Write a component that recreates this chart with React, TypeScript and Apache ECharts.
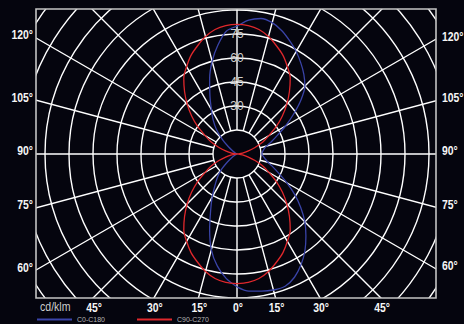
import React, { useEffect, useRef } from 'react';
import * as echarts from 'echarts';

// Gamma angles (degrees from nadir for lower half, from zenith for upper half)
const GAMMA = [0, 5, 10, 15, 20, 25, 30, 35, 40, 45, 50, 55, 60, 65, 70, 75, 80, 85, 90];

// C0-C180 plane (cd/klm)
const C0_DOWN = [83, 86, 87, 88, 88, 85, 80, 74, 67, 60, 52, 44, 36, 29, 24, 20, 18, 16.5, 15.5];
const C0_UP = [80, 84, 86, 85, 82, 78, 74, 69.5, 65, 60, 52, 43, 35, 28, 23, 19, 17, 16, 15.5];
const C180_DOWN = [83, 78, 71, 62, 50, 39, 31, 24, 19, 14, 8, 4, 1, 0, 0, 0, 0, 0, 0];
const C180_UP = [80, 77, 69, 60, 50, 40, 32, 26, 20, 13, 7, 3, 1, 0, 0, 0, 0, 0, 0];

// C90-C270 plane (cd/klm), symmetric
const C90_DOWN = [81, 80.5, 79, 76, 72, 68, 63, 58, 51, 44, 37, 30, 23, 18, 12, 7, 3.5, 1, 0];
const C90_UP = [81, 80.5, 79, 76, 72, 68, 63, 58, 51, 44, 37, 30, 23, 18, 12, 7, 3.5, 1, 0];

// Tick labels
const SIDE_TICKS = [120, 105, 90, 75, 60];
const BOTTOM_TICKS = [-45, -30, -15, 0, 15, 30, 45];
const RING_LABELS = [30, 45, 60, 75];
const SERIES_NAMES = ['C0-C180', 'C90-C270'];
const UNIT = 'cd/klm';

// Layout
const CX = 237;
const CY = 154;
const INNER = 24;
const OUTER = 250;
const PX_PER_UNIT = 1.6;
const FRAME = { l: 36, r: 436, t: 9, b: 298 };
const BG = '#05050e';
const SANS = '"Liberation Sans", Arial, Helvetica, sans-serif';
const NARROW_SCALE = 0.8;

function buildPlane(down: number[], up: number[], downB: number[], upB: number[]) {
  const pts: number[][] = [];
  for (let i = 0; i < GAMMA.length; i++) pts.push([down[i], GAMMA[i]]);
  for (let i = GAMMA.length - 2; i >= 0; i--) pts.push([up[i], 180 - GAMMA[i]]);
  for (let i = 1; i < GAMMA.length; i++) pts.push([upB[i], 180 + GAMMA[i]]);
  for (let i = GAMMA.length - 2; i >= 0; i--) pts.push([downB[i], 360 - GAMMA[i]]);
  const out: number[][] = [];
  for (const p of pts) {
    const prev = out[out.length - 1];
    if (prev && prev[0] === 0 && p[0] === 0) continue;
    out.push(p);
  }
  return out;
}

export default function App() {
  const ref = useRef<HTMLDivElement>(null);
  useEffect(() => {
    const chart = echarts.init(ref.current!, null, { renderer: 'svg' });
    const rad = (d: number) => (d * Math.PI) / 180;
    const maxVal = OUTER / PX_PER_UNIT;

    const graphics: any[] = [
      { type: 'rect', z: 50, shape: { x: 0, y: 0, width: FRAME.l, height: 324 }, style: { fill: BG } },
      { type: 'rect', z: 50, shape: { x: FRAME.r, y: 0, width: 464 - FRAME.r, height: 324 }, style: { fill: BG } },
      { type: 'rect', z: 50, shape: { x: 0, y: 0, width: 464, height: FRAME.t }, style: { fill: BG } },
      { type: 'rect', z: 50, shape: { x: 0, y: FRAME.b, width: 464, height: 324 - FRAME.b }, style: { fill: BG } },
      {
        type: 'rect', z: 51,
        shape: { x: FRAME.l, y: FRAME.t, width: FRAME.r - FRAME.l, height: FRAME.b - FRAME.t },
        style: { fill: 'none', stroke: '#c4c4c4', lineWidth: 1.6 },
      },
    ];
    const boldSt = { fill: '#f6f6f6', font: `bold 13px ${SANS}`, verticalAlign: 'middle' };
    SIDE_TICKS.forEach((a) => {
      const t = Math.cos(rad(a)) / Math.sin(rad(a));
      const yl = CY + (CX - FRAME.l) * t - 3.5;
      const yr = CY + (FRAME.r - CX) * t - 3.5;
      graphics.push({
        type: 'text', z: 52, x: FRAME.l - 3, y: yl, scaleX: NARROW_SCALE,
        style: { ...boldSt, text: `${a}°`, align: 'right' },
      });
      graphics.push({
        type: 'text', z: 52, x: FRAME.r + 6, y: yr, scaleX: NARROW_SCALE,
        style: { ...boldSt, text: `${a}°`, align: 'left' },
      });
    });
    BOTTOM_TICKS.forEach((a) => {
      const x = CX + (FRAME.b - CY) * Math.tan(rad(a)) + 1;
      graphics.push({
        type: 'text', z: 52, x, y: 307.5, scaleX: NARROW_SCALE,
        style: { ...boldSt, text: `${Math.abs(a)}°`, align: 'center' },
      });
    });
    graphics.push({
      type: 'text', z: 52, x: 40, y: 307, scaleX: 0.88,
      style: { text: UNIT, fill: '#cccccc', font: `12px ${SANS}`, align: 'left', verticalAlign: 'middle' },
    });
    RING_LABELS.forEach((v) => {
      graphics.push({
        type: 'text', z: 3, x: CX, y: CY - v * PX_PER_UNIT,
        style: { text: String(v), fill: '#cfcfcf', font: `12px ${SANS}`, align: 'center', verticalAlign: 'middle' },
      });
    });

    const legendCommon = {
      orient: 'horizontal', top: 316, padding: 0, itemWidth: 35, itemHeight: 2, icon: 'rect', z: 80,
      textStyle: { color: '#b4b4b4', fontSize: 7, fontFamily: SANS },
    };

    chart.setOption({
      animation: false,
      backgroundColor: BG,
      polar: [
        { center: [CX, CY], radius: [INNER, OUTER] },
        { center: [CX, CY], radius: [0, OUTER] },
      ],
      angleAxis: [
        {
          polarIndex: 0, type: 'value', min: 0, max: 360, interval: 15, startAngle: -90, clockwise: false,
          axisLine: { show: false }, axisTick: { show: false }, axisLabel: { show: false },
          splitLine: { show: true, lineStyle: { color: '#ffffff', width: 1.4 } },
        },
        { polarIndex: 1, type: 'value', min: 0, max: 360, interval: 15, startAngle: -90, clockwise: false, show: false },
      ],
      radiusAxis: [
        {
          polarIndex: 0, type: 'value', min: 15, max: maxVal, interval: 15,
          axisLine: { show: false }, axisTick: { show: false }, axisLabel: { show: false },
          splitLine: { show: true, lineStyle: { color: '#ffffff', width: 1.4 } },
        },
        { polarIndex: 1, type: 'value', min: 0, max: maxVal, show: false },
      ],
      legend: [
        { ...legendCommon, data: [SERIES_NAMES[0]], left: 37 },
        { ...legendCommon, data: [SERIES_NAMES[1]], left: 137 },
      ],
      series: [
        {
          name: SERIES_NAMES[0], type: 'line', coordinateSystem: 'polar', polarIndex: 1,
          showSymbol: false, smooth: 0.3, color: '#3a44a8',
          lineStyle: { width: 1.3, color: '#3a44a8' },
          data: buildPlane(C0_DOWN, C0_UP, C180_DOWN, C180_UP),
        },
        {
          name: SERIES_NAMES[1], type: 'line', coordinateSystem: 'polar', polarIndex: 1,
          showSymbol: false, smooth: 0.3, color: '#e0282c',
          lineStyle: { width: 1.3, color: '#e0282c' },
          data: buildPlane(C90_DOWN, C90_UP, C90_DOWN, C90_UP),
        },
      ],
      graphic: graphics,
    });
    return () => chart.dispose();
  }, []);
  return <div ref={ref} style={{ position: 'fixed', left: 0, top: 0, width: 464, height: 324, background: BG }} />;
}
